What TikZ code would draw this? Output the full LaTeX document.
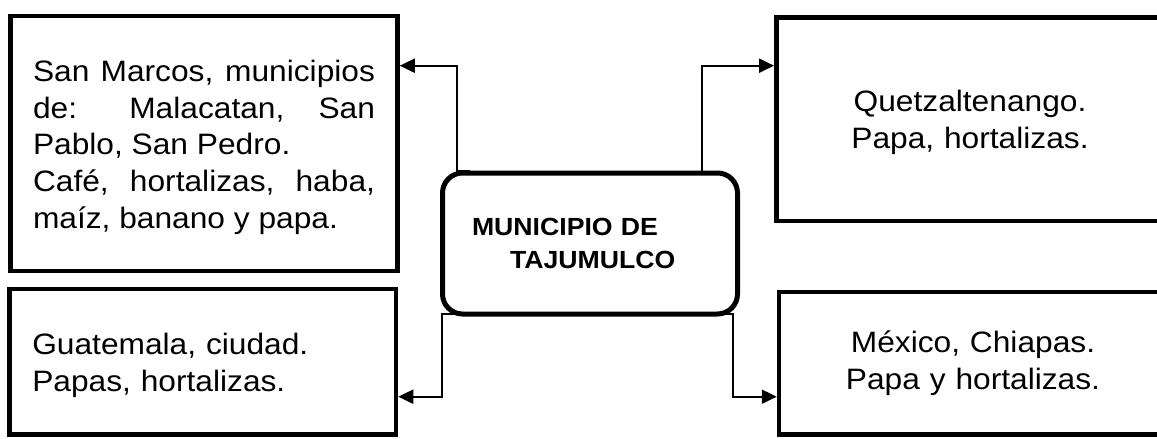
\documentclass[tikz,border=0pt]{standalone}
\usepackage{fontspec}
\setmainfont{Liberation Sans}[FakeStretch=1.075]
\usetikzlibrary{arrows.meta,calc}
\newcommand\tstrut{\rule{0pt}{29pt}}
\begin{document}
\begin{tikzpicture}[x=1pt,y=1pt,
  box/.style={draw, line width=4.5pt, rectangle, inner sep=0pt,
    font=\fontsize{29.5}{36.6}\selectfont},
  hub/.style={draw, line width=5pt, rounded corners=20pt, inner ysep=0pt,
    inner xsep=29.5pt, text width=236pt, align=left,
    minimum width=295pt, minimum height=141pt,
    font=\fontsize{24.8}{32.3}\selectfont\bfseries},
  conn/.style={line width=2pt, -{Triangle[length=15pt,width=14pt]}}]
\useasboundingbox (0,0) rectangle (1157,-439);
\clip (0,0) rectangle (1157,-439);

\node[box, minimum width=387pt, minimum height=255pt, text width=342pt, align=justify]
  (lt) at (204,-143.5)
  {\hyphenpenalty=10000\relax\parindent=0pt\relax
   \tstrut San Marcos, municipios\linebreak de: Malacatan, San\linebreak Pablo, San Pedro.\par
   \noindent Café, hortalizas, haba,\linebreak maíz, banano y papa.};

\node[box, minimum width=386.5pt, minimum height=145.5pt, text width=341pt, align=left]
  (lb) at (202.75,-361.75)
  {\tstrut Guatemala, ciudad.\\ Papas, hortalizas.};

\node[box, minimum width=387.4pt, minimum height=203.5pt, text width=342pt, align=center]
  (rt) at (970,-119.25)
  {\rule{0pt}{27.5pt}Quetzaltenango.\\ Papa, hortalizas.};

\node[box, minimum width=388pt, minimum height=142.5pt, text width=342pt, align=center]
  (rb) at (973,-363.25)
  {México, Chiapas.\\ Papa y hortalizas.};

\node[hub] (c) at (590,-243.5) {MUNICIPIO DE\\\hspace*{38pt}TAJUMULCO};

\coordinate (k1) at (456.7,-65.7);
\coordinate (k2) at (702,-65.7);
\coordinate (k3) at (441.7,-396.7);
\coordinate (k4) at (733.3,-396.7);

\draw[conn] ($(c.north)+(-120,0)$) -| (k1) -- (k1 -| lt.east);
\draw[conn] (c.north -| k2) -- (k2) -- (k2 -| rt.west);
\draw[conn] ($(c.south)+(-120,3)$) -| (k3) -- (k3 -| lb.east);
\draw[conn] ($(c.south)+(120,3)$) -| (k4) -- (k4 -| rb.west);
\end{tikzpicture}
\end{document}
